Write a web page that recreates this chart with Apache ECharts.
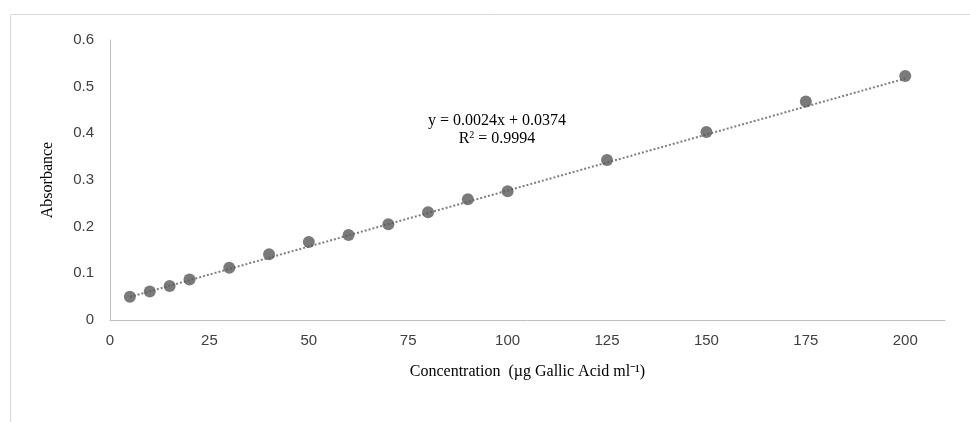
<!DOCTYPE html>
<html>
<head>
<meta charset="utf-8">
<script src="https://cdn.jsdelivr.net/npm/echarts@6/dist/echarts.min.js"></script>
<style>
html,body{margin:0;padding:0;background:#fff;}
#chart{width:970px;height:422px;}
</style>
</head>
<body>
<div id="chart"></div>
<script>
const concentration = [5, 10, 15, 20, 30, 40, 50, 60, 70, 80, 90, 100, 125, 150, 175, 200];
const absorbance = [0.050, 0.061, 0.073, 0.087, 0.112, 0.141, 0.167, 0.182, 0.205, 0.231, 0.259, 0.276, 0.343, 0.403, 0.468, 0.523];
const trendX = [5, 200];
const trendY = [0.0494, 0.5174];
const equationLines = ['y = 0.0024x + 0.0374', 'R{sup|2} = 0.9994'];

const chart = echarts.init(document.getElementById('chart'), null, {renderer: 'canvas'});
const tickFont = {fontFamily: 'Liberation Sans', fontSize: 15, color: '#404040'};
const serif = 'Liberation Serif';

chart.setOption({
  animation: false,
  backgroundColor: '#fff',
  grid: {left: 110, top: 40, right: 25, bottom: 102},
  graphic: [
    {type: 'rect', shape: {x: 10.5, y: 14.5, width: 980, height: 430},
     style: {fill: 'none', stroke: '#d9d9d9', lineWidth: 1}, z: -1},
    {type: 'text', x: 497, y: 113,
     style: {text: equationLines[0], font: '16px "Liberation Serif"', fill: '#000',
       align: 'center', verticalAlign: 'top'}, z: 10},
    {type: 'text', x: 497, y: 130,
     style: {text: equationLines[1], font: '16px "Liberation Serif"', fill: '#000',
       align: 'center', verticalAlign: 'top', lineHeight: 18,
       rich: {sup: {fontSize: 10, fontFamily: serif, verticalAlign: 'top', lineHeight: 18, fill: '#000'}}},
     z: 10}
  ],
  xAxis: {
    type: 'value', min: 0, max: 210, interval: 25,
    axisLine: {show: true, lineStyle: {color: '#bfbfbf', width: 1}},
    axisTick: {show: false},
    splitLine: {show: false},
    axisLabel: Object.assign({margin: 13, showMaxLabel: false}, tickFont),
    name: 'Concentration  (µg Gallic Acid ml⁻¹)',
    nameLocation: 'middle', nameGap: 44,
    nameTextStyle: {fontFamily: serif, fontSize: 16, color: '#000'}
  },
  yAxis: {
    type: 'value', min: 0, max: 0.6, interval: 0.1,
    axisLine: {show: true, lineStyle: {color: '#bfbfbf', width: 1}},
    axisTick: {show: false},
    splitLine: {show: false},
    axisLabel: Object.assign({margin: 16}, tickFont),
    name: 'Absorbance', nameLocation: 'middle', nameGap: 54,
    nameTextStyle: {fontFamily: serif, fontSize: 16, color: '#000'}
  },
  series: [
    {type: 'line', data: trendX.map((x, i) => [x, trendY[i]]), symbol: 'none',
     lineStyle: {color: '#7f7f7f', width: 2, type: [2, 2]}, z: 1, silent: true},
    {type: 'scatter', data: concentration.map((x, i) => [x, absorbance[i]]),
     symbol: 'circle', symbolSize: 12, itemStyle: {color: '#595959'}, z: 2}
  ]
});
</script>
</body>
</html>
